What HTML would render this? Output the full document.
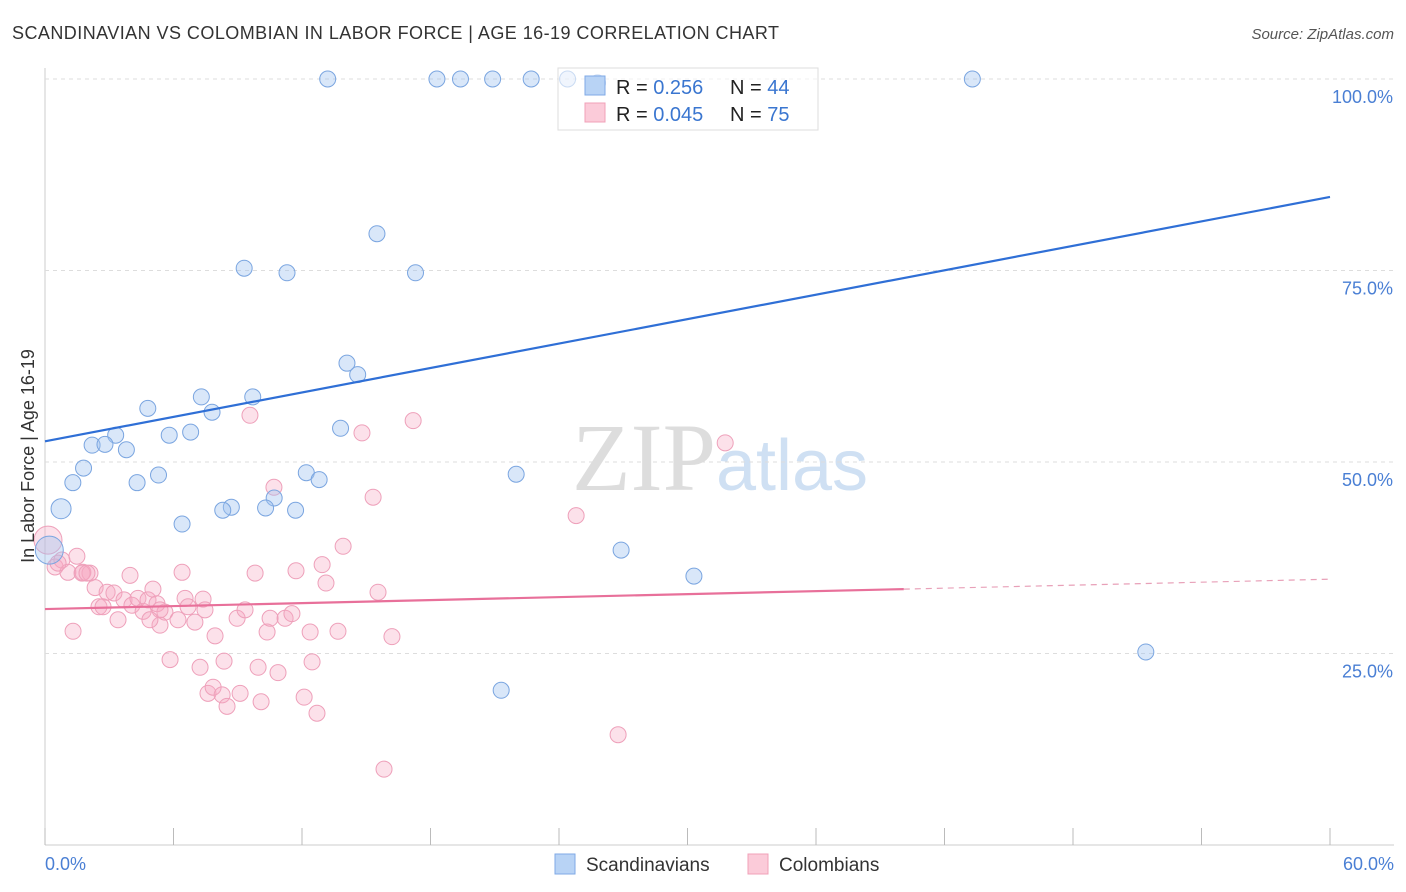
<!DOCTYPE html>
<html><head><meta charset="utf-8"><style>
body{margin:0;background:#fff;font-family:"Liberation Sans",sans-serif;}
svg{display:block}
</style></head><body>
<svg id="c" width="1406" height="892">
<text x="12" y="39" font-size="18" fill="#333" textLength="767">SCANDINAVIAN VS COLOMBIAN IN LABOR FORCE | AGE 16-19 CORRELATION CHART</text>
<text x="1394" y="39" font-size="15" fill="#555" font-style="italic" text-anchor="end">Source: ZipAtlas.com</text>
<text x="720" y="490" font-size="96" fill="#ddd" text-anchor="middle" font-family="Liberation Serif,serif">ZIP<tspan fill="#cfe0f3" font-family="Liberation Sans,sans-serif" font-size="72">atlas</tspan></text>
<g id="grid"></g><g id="pts"></g><g id="lines"></g>
<text transform="translate(34,456) rotate(-90)" font-size="18" fill="#333" text-anchor="middle">In Labor Force | Age 16-19</text>
<text x="45" y="870" font-size="18" fill="#4a7fd4">0.0%</text>
<text x="1394" y="870" font-size="18" fill="#4a7fd4" text-anchor="end">60.0%</text>
<g>
<rect x="558" y="68" width="260" height="62" fill="rgba(255,255,255,0.6)" stroke="#ddd"/>
<rect x="585" y="76" width="20" height="19" fill="#b8d3f5" stroke="#7fa9e6"/>
<rect x="585" y="103" width="20" height="19" fill="#fbcbd9" stroke="#f0a0b8"/>
<text x="616" y="94" font-size="20" fill="#222">R = <tspan fill="#3a76d0">0.256</tspan></text>
<text x="730" y="94" font-size="20" fill="#222">N = <tspan fill="#3a76d0">44</tspan></text>
<text x="616" y="121" font-size="20" fill="#222">R = <tspan fill="#3a76d0">0.045</tspan></text>
<text x="730" y="121" font-size="20" fill="#222">N = <tspan fill="#3a76d0">75</tspan></text>
</g>
<g>
<rect x="555" y="854" width="20" height="20" fill="#b8d3f5" stroke="#7fa9e6"/>
<text x="586" y="871" font-size="19" fill="#333">Scandinavians</text>
<rect x="748" y="854" width="20" height="20" fill="#fbcbd9" stroke="#f0a0b8"/>
<text x="779" y="871" font-size="19" fill="#333">Colombians</text>
</g>
</svg>
<script>
const yTicks=[25,50,75,100];
const xTicks=[0,6,12,18,24,30,36,42,48,54,60];
const blueX=[13.2,18.3,19.4,20.9,22.7,24.4,25.8,43.3,15.5,9.3,11.3,17.3,14.1,14.6,7.3,9.7,4.8,7.8,3.3,5.8,6.8,13.8,2.2,2.8,3.8,1.8,5.3,4.3,1.3,12.2,12.8,22.0,10.7,8.7,8.3,10.3,11.7,0.75,6.4,26.9,30.3,51.4,21.3,0.2];
const blueY=[100,100,100,100,100,100,99.5,100,79.8,75.3,74.7,74.7,62.9,61.4,58.5,58.5,57.0,56.5,53.5,53.5,53.9,54.4,52.2,52.3,51.6,49.2,48.3,47.3,47.3,48.6,47.7,48.4,45.3,44.1,43.7,44.0,43.7,43.9,41.9,38.5,35.1,25.2,20.2,38.5];
const pinkX=[0.14,0.47,0.79,1.07,1.49,1.77,2.10,1.31,2.34,2.52,2.71,2.90,3.22,3.41,3.69,3.97,4.06,4.34,4.58,4.81,5.04,5.23,5.37,5.60,5.84,6.21,6.40,6.54,6.68,7.00,7.24,7.38,7.61,7.85,7.94,8.27,8.36,8.50,9.11,8.97,9.34,9.57,9.81,9.95,10.09,10.37,10.51,10.69,10.88,11.21,11.53,11.72,12.10,12.38,12.47,12.70,12.94,13.12,13.68,13.92,14.80,15.32,15.55,15.83,16.20,17.19,24.80,26.76,31.76,1.73,0.61,1.96,5.37,7.47,4.90];
const pinkY=[39.8,36.3,37.2,35.6,37.7,35.6,35.5,27.9,33.6,31.1,31.1,33.0,32.9,29.4,32.0,35.2,31.3,32.2,30.5,32.0,33.4,31.5,28.7,30.4,24.2,29.4,35.6,32.2,31.1,29.1,23.2,32.1,19.8,20.6,27.3,19.6,24.0,18.1,19.8,29.6,30.7,56.1,35.5,23.2,18.7,27.8,29.6,46.7,22.5,29.6,30.2,35.8,19.3,27.8,23.9,17.2,36.6,34.2,27.9,39.0,53.8,45.4,33.0,9.9,27.2,55.4,43.0,14.4,52.5,35.5,36.8,35.5,30.7,30.7,29.4];
const blueLine=[52.7,84.6];
const pinkLine=[30.8,34.7];
const pinkSolidEnd=40.1;
const X0=45,X1=1330,YB=845,YT=79;
const sx=v=>X0+(X1-X0)*v/60;
const sy=v=>YB-(YB-YT)*v/100;
const NS='http://www.w3.org/2000/svg';
function mk(t,a,p){const e=document.createElementNS(NS,t);for(const k in a)e.setAttribute(k,a[k]);p.appendChild(e);return e;}
const grid=document.getElementById('grid');
mk('line',{x1:X0,y1:68,x2:X0,y2:YB,stroke:'#ccc'},grid);
mk('line',{x1:X0,y1:YB,x2:1394,y2:YB,stroke:'#ccc'},grid);
yTicks.forEach(t=>{
 const l=mk('line',{x1:X0,y1:sy(t),x2:1394,y2:sy(t),stroke:'#ddd','stroke-dasharray':'4,4'},grid);
 
 
 const tx=mk('text',{x:1393,y:sy(t)+24,'font-size':18,fill:'#4a7fd4','text-anchor':'end'},grid);
 tx.textContent=t.toFixed(1)+'%';
 
 
});
xTicks.forEach(t=>{
 const l=mk('line',{x1:sx(t),y1:828,x2:sx(t),y2:YB,stroke:'#bbb'},grid);
 
 
});
const pts=document.getElementById('pts');
pinkX.forEach((x,i)=>{
 const c=mk('circle',{cx:sx(x),cy:sy(pinkY[i]),r:i==0?14:8,fill:'rgba(246,170,195,0.35)',stroke:'#eea0ba','stroke-width':1},pts);
 
 
});
blueX.forEach((x,i)=>{
 const c=mk('circle',{cx:sx(x),cy:sy(blueY[i]),r:i==43?14:(i==37?10:8),fill:'rgba(160,195,240,0.4)',stroke:'#7aa5e0','stroke-width':1},pts);
 
 
});
const lines=document.getElementById('lines');
const bl=mk('line',{x1:sx(0),y1:sy(blueLine[0]),x2:sx(60),y2:sy(blueLine[1]),stroke:'#2f6fd6','stroke-width':2.2},lines);


const pm=pinkLine[0]+(pinkLine[1]-pinkLine[0])*pinkSolidEnd/60;
const pl=mk('line',{x1:sx(0),y1:sy(pinkLine[0]),x2:sx(pinkSolidEnd),y2:sy(pm),stroke:'#e8709a','stroke-width':2.2},lines);


const pd=mk('line',{x1:sx(pinkSolidEnd),y1:sy(pm),x2:sx(60),y2:sy(pinkLine[1]),stroke:'#e8a0b8','stroke-width':1.2,'stroke-dasharray':'6,5'},lines);


</script>
</body></html>
